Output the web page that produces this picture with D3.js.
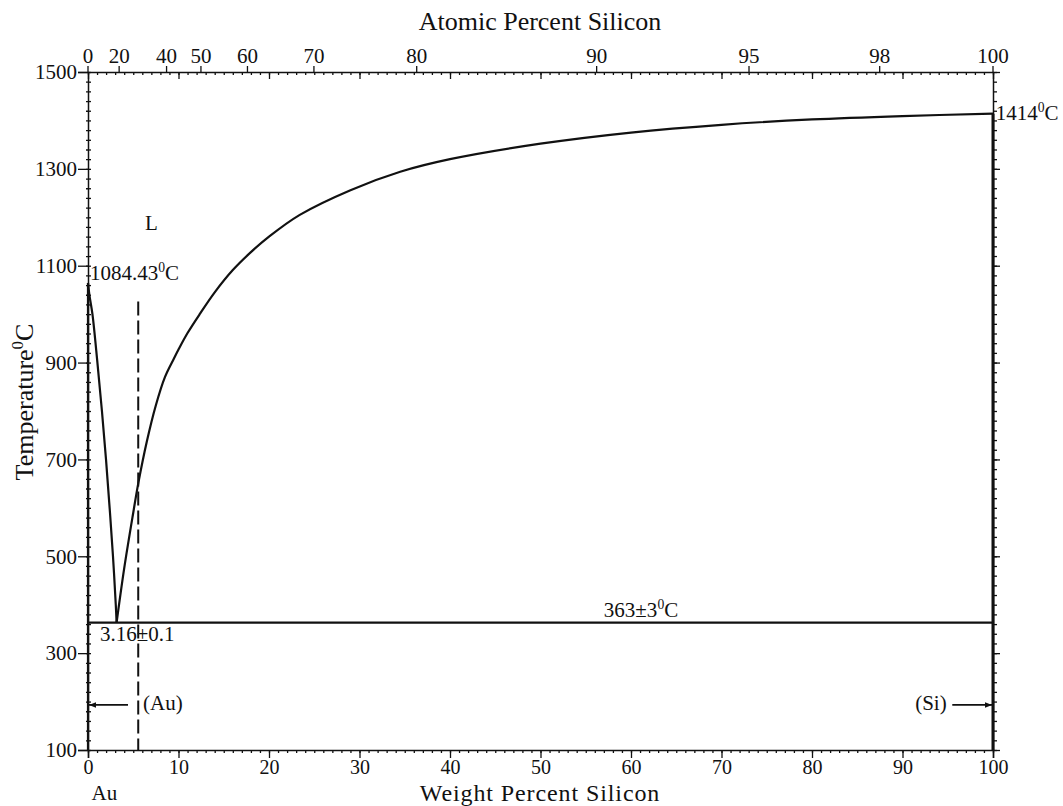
<!DOCTYPE html>
<html>
<head>
<meta charset="utf-8">
<script src="https://cdn.jsdelivr.net/npm/d3@7"></script>
<style>
  html, body { margin: 0; padding: 0; background: #fff; }
  svg { display: block; }
  text { font-family: "Liberation Serif", "Times New Roman", serif; fill: #111; }
</style>
</head>
<body>
<svg id="chart" width="1063" height="806"></svg>
<script>
// ---------------- data ----------------
const weightTicks = [0, 10, 20, 30, 40, 50, 60, 70, 80, 90, 100];
const tempTicks = [100, 300, 500, 700, 900, 1100, 1300, 1500];
const atomicTicks = [0, 20, 40, 50, 60, 70, 80, 90, 95, 98, 100];

// liquidus, Au side: [wt% Si, T °C]
const liquidusAu = [
  [0, 1064.43], [0.15, 1040], [0.49, 1000], [1.04, 900], [1.54, 800],
  [1.99, 700], [2.39, 600], [2.76, 500], [3.07, 400], [3.16, 363]
];
// liquidus, Si side
const liquidusSi = [
  [3.16, 363], [4.0, 475], [5.0, 590], [5.56, 651], [6.5, 737], [7.5, 812],
  [8.5, 870], [9.43, 906], [10, 927], [11, 961], [12.38, 1001], [14, 1045],
  [16, 1091], [18, 1128], [20, 1160], [23.4, 1205], [29, 1256],
  [34.5, 1294], [40, 1320], [50, 1352], [60, 1375], [70, 1391],
  [80, 1402], [90, 1409], [100, 1414]
];
const eutectic = { wt: 3.16, T: 363 };
const meltAu = 1064.43, meltSi = 1414;
const dashedLine = { wt: 5.55, Ttop: 1026, Tbottom: 100 };
const arrowT = 193;

const MSi = 28.0855, MAu = 196.967;
function atToWt(a) { return 100 * a * MSi / (a * MSi + (100 - a) * MAu); }

// ---------------- layout ----------------
const svg = d3.select("#chart");
const x = d3.scaleLinear().domain([0, 100]).range([88, 993]);
const y = d3.scaleLinear().domain([100, 1500]).range([750, 72]);
const FS = 21;

svg.append("rect").attr("width", 1063).attr("height", 806).attr("fill", "#fff");

function styleAxis(g, showText, fs) {
  g.attr("font-family", null);
  g.select(".domain").attr("stroke", "#111").attr("stroke-width", 1.5);
  g.selectAll(".tick line").attr("stroke", "#111").attr("stroke-width", 1.3);
  g.selectAll(".tick text").style("font-family", '"Liberation Serif", serif')
    .style("font-size", (fs || FS) + "px").attr("fill", "#111");
  if (!showText) g.selectAll(".tick text").remove();
}

// bottom axis
const gB = svg.append("g").attr("transform", `translate(0,${y(100)})`)
  .call(d3.axisBottom(x).tickValues(weightTicks).tickSize(8).tickPadding(2).tickFormat(d3.format("d")));
styleAxis(gB, true, 20);
const gBm = svg.append("g").attr("transform", `translate(0,${y(100)})`)
  .call(d3.axisBottom(x).tickValues(d3.range(0, 101, 1)).tickSize(3).tickSizeOuter(0));
styleAxis(gBm, false); gBm.select(".domain").remove();

// left axis
const gL = svg.append("g").attr("transform", `translate(${x(0)},0)`)
  .call(d3.axisLeft(y).tickValues(tempTicks).tickSize(10).tickPadding(1).tickFormat(d3.format("d")));
styleAxis(gL, true);
const gLm = svg.append("g").attr("transform", `translate(${x(0)},0)`)
  .call(d3.axisRight(y).tickValues(d3.range(100, 1501, 20)).tickSize(3).tickSizeOuter(0));
styleAxis(gLm, false); gLm.select(".domain").remove();
const gLm2 = svg.append("g").attr("transform", `translate(${x(0)},0)`)
  .call(d3.axisLeft(y).tickValues(d3.range(120, 1500, 20)).tickSize(2).tickSizeOuter(0));
styleAxis(gLm2, false); gLm2.select(".domain").remove();

// right axis
const gR = svg.append("g").attr("transform", `translate(${x(100)},0)`)
  .call(d3.axisRight(y).tickValues(d3.range(100, 1501, 20)).tickSize(4).tickSizeOuter(0));
styleAxis(gR, false);
const gR2 = svg.append("g").attr("transform", `translate(${x(100)},0)`)
  .call(d3.axisRight(y).tickValues(tempTicks).tickSize(7).tickSizeOuter(0));
styleAxis(gR2, false); gR2.select(".domain").remove();

// top axis: weight-percent ticks inward, atomic-percent ticks outward
const gT = svg.append("g").attr("transform", `translate(0,${y(1500)})`)
  .call(d3.axisBottom(x).tickValues(weightTicks).tickSize(7).tickSizeOuter(0));
styleAxis(gT, false);
const gTm = svg.append("g").attr("transform", `translate(0,${y(1500)})`)
  .call(d3.axisBottom(x).tickValues(d3.range(0, 101, 1)).tickSize(3).tickSizeOuter(0));
styleAxis(gTm, false); gTm.select(".domain").remove();
const gTa = svg.append("g").attr("transform", `translate(0,${y(1500)})`);
const at = gTa.selectAll("g.at").data(atomicTicks).enter().append("g")
  .attr("transform", d => `translate(${x(atToWt(d))},0)`);
at.append("line").attr("y1", 0).attr("y2", -6).attr("stroke", "#111").attr("stroke-width", 1.3);
at.append("text").attr("y", -9).attr("text-anchor", "middle")
  .style("font-size", FS + "px").text(d => d);

// ---------------- phase boundaries ----------------
const line = d3.line().x(d => x(d[0])).y(d => y(d[1])).curve(d3.curveCatmullRom.alpha(0.5));
svg.append("path").datum(liquidusAu).attr("d", line)
  .attr("fill", "none").attr("stroke", "#111").attr("stroke-width", 2.2);
svg.append("path").datum(liquidusSi).attr("d", line)
  .attr("fill", "none").attr("stroke", "#111").attr("stroke-width", 2.2);

// eutectic isotherm
svg.append("line").attr("x1", x(0)).attr("x2", x(100))
  .attr("y1", y(eutectic.T)).attr("y2", y(eutectic.T))
  .attr("stroke", "#111").attr("stroke-width", 2.2);

// pure Si solid (thick right edge) and pure Au solid
svg.append("line").attr("x1", x(100)).attr("x2", x(100))
  .attr("y1", y(meltSi)).attr("y2", y(100))
  .attr("stroke", "#111").attr("stroke-width", 3);
svg.append("line").attr("x1", x(0)).attr("x2", x(0))
  .attr("y1", y(meltAu)).attr("y2", y(100))
  .attr("stroke", "#111").attr("stroke-width", 2.2);

// dashed solvus
svg.append("line").attr("x1", x(dashedLine.wt)).attr("x2", x(dashedLine.wt))
  .attr("y1", y(dashedLine.Ttop)).attr("y2", y(dashedLine.Tbottom))
  .attr("stroke", "#111").attr("stroke-width", 2).attr("stroke-dasharray", "14,5");

// arrows
const defs = svg.append("defs");
defs.append("marker").attr("id", "ah").attr("viewBox", "0 0 10 10")
  .attr("refX", 10).attr("refY", 5).attr("markerWidth", 12).attr("markerHeight", 7)
  .attr("markerUnits", "userSpaceOnUse").attr("orient", "auto")
  .append("path").attr("d", "M0,1 L10,5 L0,9 Z").attr("fill", "#111");
svg.append("line").attr("x1", x(4.42)).attr("x2", x(0) + 1)
  .attr("y1", y(arrowT)).attr("y2", y(arrowT))
  .attr("stroke", "#111").attr("stroke-width", 1.8).attr("marker-end", "url(#ah)");
svg.append("line").attr("x1", x(95.5)).attr("x2", x(100) - 1)
  .attr("y1", y(arrowT)).attr("y2", y(arrowT))
  .attr("stroke", "#111").attr("stroke-width", 1.8).attr("marker-end", "url(#ah)");

// ---------------- labels ----------------
// parts: strings (normal) or {t, sup:true}
function label(parent, px, py, parts, size, anchor) {
  const fs = size || FS;
  const t = parent.append("text").attr("x", px).attr("y", py)
    .style("font-size", fs + "px").attr("text-anchor", anchor || "start");
  let raised = false;
  parts.forEach(p => {
    const s = t.append("tspan");
    if (typeof p === "string") {
      s.text(p);
      if (raised) { s.attr("dy", fs * 0.4); raised = false; }
    } else {
      s.text(p.t).attr("dy", -fs * 0.4).style("font-size", (fs * 0.65) + "px");
      raised = true;
    }
  });
  return t;
}
const SUP0 = { t: "0", sup: true };

label(svg, x(0.22), y(1070.5), ["1084.43", SUP0, "C"]);
label(svg, x(6.3), y(1174), ["L"]);
label(svg, x(57.0), y(374.6), ["363±3", SUP0, "C"]);
label(svg, x(1.33), y(325), ["3.16±0.1"]);
label(svg, x(6.08), y(182.6), ["(Au)"]);
label(svg, x(91.4), y(182.6), ["(Si)"]);
label(svg, x(100.3), y(1400), ["1414", SUP0, "C"]);
label(svg, x(0.4), y(100) + 50, ["Au"]);

// axis titles
label(svg, 540, 30, ["Atomic Percent Silicon"], 26, "middle");
label(svg, 540, 800.5, ["Weight Percent Silicon"], 24, "middle").style("letter-spacing", "0.9px");
const yt = svg.append("g").attr("transform", "translate(33,402) rotate(-90)");
label(yt, 0, 0, ["Temperature", SUP0, "C"], 26, "middle");
</script>
</body>
</html>
